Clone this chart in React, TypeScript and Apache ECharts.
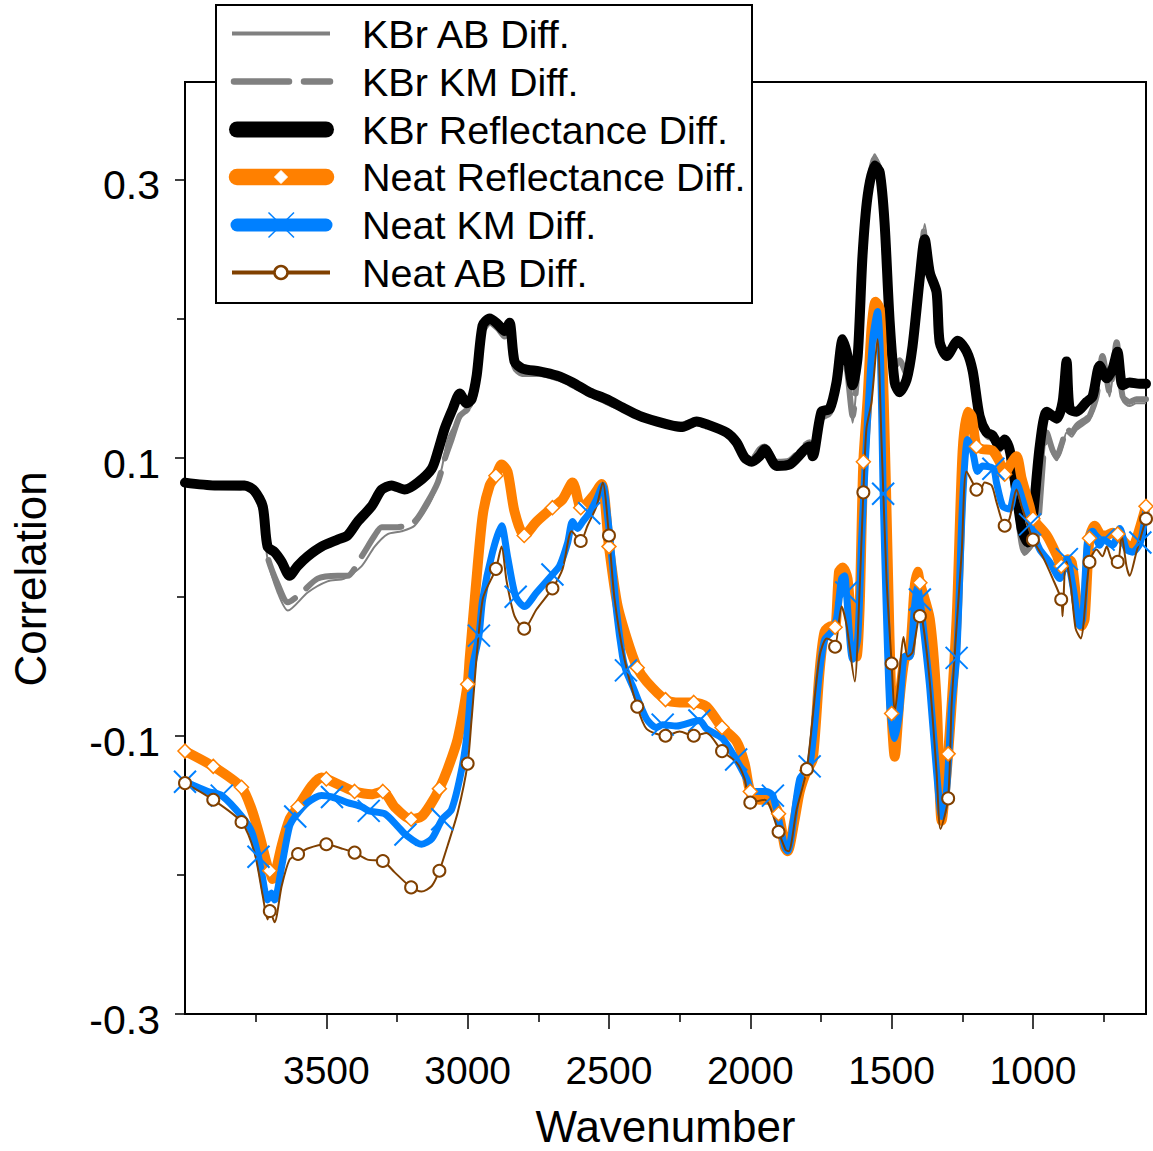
import React, { useEffect, useRef } from "react";
import * as echarts from "echarts";

type Pt = [number, number];

// Correlation spectra, [wavenumber (cm-1), correlation]
const kbrAb: Pt[] = [
  [4000, 0.080], [3895, 0.078], [3789, 0.077], [3754, 0.073], [3725, 0.058], [3708, 0.027], [3672, 0.003],
  [3636, -0.010], [3566, 0.003], [3496, 0.011], [3436, 0.013], [3375, 0.022], [3329, 0.036], [3283, 0.045],
  [3234, 0.047], [3188, 0.051], [3127, 0.070], [3092, 0.092], [3071, 0.113], [3040, 0.125], [3004, 0.133],
  [2986, 0.137], [2968, 0.150], [2947, 0.188], [2922, 0.196], [2894, 0.192], [2869, 0.186], [2852, 0.193],
  [2834, 0.164], [2806, 0.159], [2746, 0.159], [2685, 0.156], [2629, 0.151], [2569, 0.145], [2509, 0.139],
  [2452, 0.134], [2392, 0.129], [2332, 0.125], [2275, 0.123], [2240, 0.123], [2190, 0.126], [2155, 0.124],
  [2084, 0.118], [2049, 0.112], [2020, 0.101], [1995, 0.098], [1967, 0.104], [1949, 0.107], [1907, 0.096],
  [1861, 0.097], [1790, 0.110], [1779, 0.104], [1748, 0.127], [1719, 0.131], [1695, 0.151], [1673, 0.176],
  [1656, 0.155], [1638, 0.125], [1620, 0.166], [1603, 0.248], [1585, 0.293], [1560, 0.318], [1542, 0.309],
  [1525, 0.266], [1507, 0.198], [1489, 0.163], [1472, 0.168], [1447, 0.158], [1426, 0.184], [1401, 0.236],
  [1383, 0.268], [1365, 0.240], [1341, 0.217], [1330, 0.181], [1305, 0.170], [1266, 0.181], [1234, 0.174],
  [1213, 0.158], [1189, 0.126], [1164, 0.114], [1143, 0.112], [1118, 0.104], [1100, 0.108], [1083, 0.096],
  [1065, 0.072], [1040, 0.035], [1030, 0.030], [1010, 0.034], [986, 0.042], [951, 0.115], [930, 0.102],
  [916, 0.098], [895, 0.108], [881, 0.118], [863, 0.115], [845, 0.120], [810, 0.125], [799, 0.127],
  [775, 0.141], [754, 0.170], [729, 0.144], [704, 0.180], [683, 0.141], [658, 0.137], [634, 0.139], [600, 0.139],
];

const kbrKm: Pt[] = [
  [4000, 0.081], [3895, 0.079], [3789, 0.078], [3754, 0.074], [3725, 0.060], [3708, 0.029], [3672, 0.009],
  [3636, -0.004], [3587, 0.003], [3531, 0.013], [3460, 0.015], [3425, 0.015], [3375, 0.029], [3329, 0.044],
  [3304, 0.050], [3248, 0.050], [3188, 0.054], [3142, 0.068], [3106, 0.082], [3081, 0.099], [3057, 0.113],
  [3028, 0.130], [3004, 0.134], [2986, 0.138], [2968, 0.153], [2947, 0.190], [2922, 0.197], [2894, 0.193],
  [2869, 0.187], [2852, 0.194], [2834, 0.165], [2806, 0.160], [2746, 0.160], [2685, 0.157], [2629, 0.152],
  [2569, 0.146], [2509, 0.140], [2452, 0.135], [2392, 0.130], [2332, 0.126], [2275, 0.124], [2240, 0.124],
  [2190, 0.127], [2155, 0.125], [2084, 0.119], [2049, 0.113], [2020, 0.102], [1995, 0.099], [1967, 0.106],
  [1949, 0.108], [1907, 0.097], [1861, 0.098], [1790, 0.111], [1779, 0.106], [1748, 0.128], [1719, 0.132],
  [1695, 0.150], [1673, 0.178], [1656, 0.160], [1638, 0.130], [1620, 0.165], [1603, 0.245], [1585, 0.290],
  [1560, 0.315], [1542, 0.307], [1525, 0.265], [1507, 0.200], [1489, 0.165], [1472, 0.170], [1447, 0.160],
  [1426, 0.185], [1401, 0.235], [1383, 0.265], [1365, 0.238], [1341, 0.218], [1330, 0.183], [1305, 0.172],
  [1266, 0.182], [1234, 0.175], [1213, 0.160], [1189, 0.128], [1164, 0.116], [1143, 0.114], [1118, 0.106],
  [1100, 0.110], [1083, 0.098], [1065, 0.075], [1040, 0.038], [1030, 0.032], [1010, 0.036], [986, 0.044],
  [951, 0.118], [930, 0.105], [916, 0.101], [895, 0.112], [881, 0.121], [863, 0.118], [845, 0.123],
  [810, 0.128], [799, 0.130], [775, 0.144], [754, 0.173], [729, 0.147], [704, 0.183], [683, 0.144],
  [658, 0.140], [634, 0.142], [600, 0.142],
];

const kbrRefl: Pt[] = [
  [4000, 0.082], [3895, 0.080], [3789, 0.080], [3754, 0.076], [3725, 0.065], [3708, 0.036], [3683, 0.032],
  [3658, 0.025], [3630, 0.015], [3602, 0.022], [3566, 0.029], [3517, 0.036], [3460, 0.041], [3425, 0.044],
  [3389, 0.054], [3340, 0.065], [3304, 0.077], [3269, 0.080], [3223, 0.077], [3177, 0.082], [3127, 0.092],
  [3106, 0.104], [3081, 0.121], [3053, 0.135], [3028, 0.146], [3004, 0.139], [2986, 0.142], [2968, 0.159],
  [2947, 0.195], [2922, 0.200], [2894, 0.196], [2869, 0.191], [2852, 0.197], [2834, 0.169], [2806, 0.164],
  [2746, 0.162], [2685, 0.159], [2629, 0.154], [2569, 0.147], [2509, 0.142], [2452, 0.136], [2392, 0.130],
  [2332, 0.126], [2275, 0.123], [2240, 0.122], [2190, 0.126], [2155, 0.124], [2084, 0.118], [2049, 0.111],
  [2020, 0.100], [1995, 0.097], [1967, 0.101], [1949, 0.106], [1907, 0.094], [1861, 0.095], [1790, 0.108],
  [1779, 0.101], [1748, 0.133], [1719, 0.135], [1695, 0.154], [1673, 0.185], [1656, 0.173], [1638, 0.152],
  [1620, 0.173], [1603, 0.245], [1585, 0.288], [1560, 0.310], [1542, 0.305], [1525, 0.269], [1507, 0.198],
  [1489, 0.154], [1472, 0.147], [1447, 0.156], [1426, 0.180], [1401, 0.228], [1383, 0.257], [1365, 0.233],
  [1341, 0.219], [1330, 0.183], [1305, 0.173], [1266, 0.184], [1234, 0.176], [1213, 0.162], [1189, 0.130],
  [1164, 0.118], [1143, 0.116], [1118, 0.108], [1100, 0.113], [1083, 0.106], [1065, 0.085], [1040, 0.049],
  [1019, 0.039], [1001, 0.056], [976, 0.108], [951, 0.133], [916, 0.128], [895, 0.140], [881, 0.169],
  [870, 0.135], [845, 0.133], [810, 0.140], [789, 0.144], [764, 0.166], [739, 0.157], [718, 0.164],
  [701, 0.176], [683, 0.152], [658, 0.154], [623, 0.153], [600, 0.153],
];

const neatRefl: Pt[] = [
  [4000, -0.111], [3900, -0.122], [3800, -0.137], [3764, -0.153], [3736, -0.172], [3708, -0.194],
  [3700, -0.197], [3690, -0.203], [3683, -0.201], [3658, -0.179], [3630, -0.160], [3600, -0.151],
  [3552, -0.136], [3517, -0.130], [3500, -0.131], [3446, -0.136], [3400, -0.140], [3340, -0.142],
  [3300, -0.140], [3259, -0.151], [3200, -0.160], [3163, -0.158], [3127, -0.148], [3100, -0.138],
  [3071, -0.124], [3035, -0.102], [3000, -0.063], [2993, -0.045], [2972, 0.005], [2947, 0.058],
  [2922, 0.080], [2900, 0.087], [2880, 0.095], [2859, 0.090], [2834, 0.061], [2800, 0.044],
  [2756, 0.054], [2700, 0.064], [2664, 0.070], [2629, 0.082], [2604, 0.065], [2600, 0.064],
  [2558, 0.072], [2526, 0.081], [2500, 0.036], [2471, -0.005], [2437, -0.030], [2400, -0.051],
  [2367, -0.061], [2300, -0.074], [2250, -0.076], [2200, -0.076], [2155, -0.079], [2100, -0.094],
  [2049, -0.104], [2020, -0.120], [2000, -0.140], [1967, -0.146], [1932, -0.146], [1900, -0.156],
  [1878, -0.180], [1868, -0.183], [1843, -0.160], [1825, -0.140], [1800, -0.125], [1779, -0.117],
  [1755, -0.054], [1737, -0.025], [1712, -0.021], [1700, -0.022], [1686, 0.018], [1673, 0.021],
  [1656, 0.013], [1638, -0.030], [1624, -0.043], [1613, -0.007], [1600, 0.097], [1585, 0.142],
  [1571, 0.193], [1557, 0.212], [1542, 0.207], [1528, 0.142], [1514, 0.027], [1500, -0.084],
  [1489, -0.115], [1472, -0.074], [1454, -0.045], [1436, -0.041], [1419, 0.006], [1408, 0.018],
  [1400, 0.010], [1365, -0.016], [1341, -0.074], [1323, -0.161], [1300, -0.113], [1270, -0.016],
  [1249, 0.104], [1231, 0.133], [1217, 0.130], [1200, 0.108], [1178, 0.106], [1143, 0.105],
  [1118, 0.097], [1100, 0.088], [1083, 0.094], [1058, 0.101], [1040, 0.085], [1012, 0.065],
  [1000, 0.056], [951, 0.044], [916, 0.030], [900, 0.022], [877, 0.027], [863, 0.025], [845, -0.004],
  [828, -0.021], [817, -0.016], [800, 0.042], [782, 0.051], [757, 0.044], [740, 0.044], [718, 0.046],
  [700, 0.045], [676, 0.039], [651, 0.034], [630, 0.044], [600, 0.065],
];

const neatKm: Pt[] = [
  [4000, -0.133], [3919, -0.140], [3870, -0.143], [3799, -0.158], [3764, -0.169], [3740, -0.187],
  [3729, -0.198], [3708, -0.218], [3694, -0.213], [3683, -0.218], [3658, -0.194], [3630, -0.165],
  [3610, -0.158], [3566, -0.148], [3517, -0.143], [3480, -0.144], [3425, -0.148], [3375, -0.151],
  [3350, -0.154], [3294, -0.156], [3248, -0.165], [3220, -0.171], [3163, -0.178], [3127, -0.174],
  [3090, -0.160], [3057, -0.153], [3021, -0.124], [3000, -0.095], [2982, -0.050], [2960, -0.028],
  [2947, -0.002], [2912, 0.032], [2880, 0.051], [2859, 0.029], [2830, 0.000], [2799, -0.007],
  [2756, 0.003], [2700, 0.016], [2675, 0.022], [2646, 0.039], [2629, 0.054], [2611, 0.049],
  [2593, 0.054], [2570, 0.060], [2544, 0.070], [2522, 0.080], [2505, 0.058], [2487, 0.022],
  [2473, -0.011], [2452, -0.043], [2440, -0.053], [2417, -0.064], [2367, -0.088], [2332, -0.094],
  [2310, -0.092], [2261, -0.093], [2180, -0.089], [2155, -0.095], [2098, -0.102], [2050, -0.117],
  [2013, -0.131], [1992, -0.140], [1943, -0.140], [1920, -0.143], [1878, -0.180], [1868, -0.183],
  [1825, -0.131], [1790, -0.122], [1755, -0.054], [1737, -0.031], [1712, -0.025], [1695, -0.016],
  [1677, 0.013], [1666, 0.015], [1660, 0.003], [1638, -0.045], [1620, -0.030], [1606, 0.042],
  [1585, 0.128], [1567, 0.185], [1550, 0.205], [1539, 0.171], [1530, 0.074], [1507, -0.078],
  [1489, -0.102], [1472, -0.083], [1454, -0.043], [1436, -0.043], [1419, -0.007], [1408, 0.007],
  [1400, -0.002], [1390, -0.018], [1365, -0.066], [1341, -0.126], [1323, -0.158], [1305, -0.138],
  [1288, -0.079], [1270, -0.044], [1249, 0.068], [1231, 0.113], [1213, 0.104], [1196, 0.090],
  [1178, 0.094], [1140, 0.092], [1129, 0.082], [1107, 0.065], [1083, 0.063], [1058, 0.082],
  [1040, 0.072], [1010, 0.052], [976, 0.034], [941, 0.025], [905, 0.013], [880, 0.027], [859, 0.008],
  [834, -0.021], [824, -0.016], [806, 0.042], [789, 0.047], [764, 0.037], [750, 0.041], [718, 0.037],
  [693, 0.049], [669, 0.034], [648, 0.032], [620, 0.039], [600, 0.063],
];

const neatAb: Pt[] = [
  [4000, -0.134], [3900, -0.146], [3800, -0.162], [3754, -0.184], [3725, -0.215], [3708, -0.232],
  [3700, -0.226], [3683, -0.234], [3658, -0.208], [3630, -0.189], [3600, -0.185], [3566, -0.181],
  [3500, -0.178], [3446, -0.181], [3400, -0.184], [3354, -0.189], [3300, -0.190], [3259, -0.198],
  [3200, -0.209], [3163, -0.212], [3127, -0.208], [3100, -0.197], [3071, -0.179], [3035, -0.155],
  [3000, -0.120], [2986, -0.088], [2947, -0.002], [2900, 0.020], [2880, 0.036], [2862, 0.011],
  [2834, -0.014], [2800, -0.023], [2756, -0.009], [2700, 0.006], [2664, 0.020], [2632, 0.047],
  [2600, 0.040], [2576, 0.051], [2544, 0.065], [2522, 0.082], [2500, 0.044], [2480, -0.002],
  [2445, -0.045], [2400, -0.079], [2367, -0.095], [2300, -0.100], [2250, -0.097], [2200, -0.100],
  [2155, -0.098], [2100, -0.111], [2049, -0.119], [2020, -0.131], [2000, -0.148], [1949, -0.146],
  [1900, -0.169], [1875, -0.182], [1864, -0.183], [1836, -0.153], [1800, -0.124], [1755, -0.043],
  [1730, -0.030], [1709, -0.032], [1700, -0.036], [1677, -0.007], [1659, -0.021], [1630, -0.061],
  [1620, -0.030], [1600, 0.075], [1589, 0.121], [1571, 0.140], [1550, 0.185], [1536, 0.113],
  [1518, 0.013], [1500, -0.048], [1489, -0.083], [1472, -0.054], [1458, -0.029], [1443, -0.043],
  [1426, -0.040], [1400, -0.014], [1390, -0.018], [1365, -0.061], [1341, -0.126], [1327, -0.167],
  [1300, -0.145], [1288, -0.079], [1273, -0.030], [1252, 0.032], [1235, 0.090], [1200, 0.077],
  [1189, 0.075], [1171, 0.082], [1146, 0.080], [1129, 0.068], [1100, 0.051], [1083, 0.056],
  [1058, 0.077], [1040, 0.065], [1000, 0.041], [966, 0.029], [930, 0.013], [900, -0.002],
  [895, -0.014], [884, 0.027], [866, 0.008], [849, -0.023], [831, -0.030], [800, 0.025], [775, 0.034],
  [754, 0.029], [739, 0.036], [722, 0.027], [700, 0.025], [686, 0.044], [669, 0.022], [658, 0.015],
  [634, 0.032], [600, 0.056],
];

// Where the marker symbols sit on each neat curve
const markersEvery100 = [
  4000, 3900, 3800, 3700, 3600, 3500, 3400, 3300, 3200, 3100, 3000, 2900, 2800, 2700, 2600, 2500, 2400,
  2300, 2200, 2100, 2000, 1900, 1800, 1700, 1600, 1500, 1400, 1300, 1200, 1100, 1000, 900, 800, 700, 600,
];
const kmMarkers = [
  4000, 3870, 3740, 3610, 3480, 3350, 3220, 3090, 2960, 2830, 2700, 2570, 2440, 2310, 2180, 2050, 1920,
  1790, 1660, 1530, 1400, 1270, 1140, 1010, 880, 750, 620,
];

const xMajor = [3500, 3000, 2500, 2000, 1500, 1000];
const xMinor = [3750, 3250, 2750, 2250, 1750, 1250, 750];
const yMajor = [-0.3, -0.1, 0.1, 0.3];
const yMinor = [-0.2, 0, 0.2];

const legendLabels = [
  "KBr AB Diff.",
  "KBr KM Diff.",
  "KBr Reflectance Diff.",
  "Neat Reflectance Diff.",
  "Neat KM Diff.",
  "Neat AB Diff.",
];

const GRAY = "#808080";
const ORANGE = "#FF8000";
const BLUE = "#0080FF";
const BROWN = "#804000";
const FONT = '"Liberation Sans", Arial, sans-serif';
const GRAY_DASH = [55, 15];
const SMOOTH = 0.25;

const markAt = (list: number[], shape: string) => {
  const set = new Set(list);
  return (v: number[]) => (set.has(v[0]) ? shape : "none");
};

function legendGraphic(): any[] {
  const rows = [33.5, 81.5, 129.5, 177, 225, 272.5];
  const z = 100;
  const els: any[] = [
    {
      type: "rect",
      z,
      shape: { x: 216, y: 5, width: 536, height: 298 },
      style: { fill: "#fff", stroke: "#000", lineWidth: 2 },
    },
  ];
  const line = (y: number, x1: number, x2: number, style: any) => ({
    type: "line",
    z: z + 1,
    shape: { x1, y1: y, x2, y2: y },
    style,
  });
  els.push(line(rows[0], 232, 330, { stroke: GRAY, lineWidth: 4 }));
  els.push(line(rows[1], 234, 330, { stroke: GRAY, lineWidth: 6.5, lineDash: GRAY_DASH, lineCap: "round" }));
  els.push(line(rows[2], 237, 326, { stroke: "#000", lineWidth: 16, lineCap: "round" }));
  els.push(line(rows[3], 237, 326, { stroke: ORANGE, lineWidth: 16.5, lineCap: "round" }));
  els.push({
    type: "polygon",
    z: z + 2,
    shape: { points: [[281, rows[3] - 6.5], [287.5, rows[3]], [281, rows[3] + 6.5], [274.5, rows[3]]] },
    style: { fill: "#fff", stroke: "#fff", lineWidth: 1 },
  });
  els.push(line(rows[4], 237, 326, { stroke: BLUE, lineWidth: 13, lineCap: "round" }));
  els.push({
    type: "line",
    z: z + 2,
    shape: { x1: 268.5, y1: rows[4] - 12.5, x2: 294, y2: rows[4] + 12.5 },
    style: { stroke: BLUE, lineWidth: 1.5 },
  });
  els.push({
    type: "line",
    z: z + 2,
    shape: { x1: 294, y1: rows[4] - 12.5, x2: 268.5, y2: rows[4] + 12.5 },
    style: { stroke: BLUE, lineWidth: 1.5 },
  });
  els.push(line(rows[5], 232, 330, { stroke: BROWN, lineWidth: 4 }));
  els.push({
    type: "circle",
    z: z + 2,
    shape: { cx: 281, cy: rows[5], r: 6.5 },
    style: { fill: "#fff", stroke: BROWN, lineWidth: 2.5 },
  });
  legendLabels.forEach((label, i) => {
    els.push({
      type: "text",
      z: z + 2,
      x: 362,
      y: rows[i],
      style: {
        text: label,
        font: `39.5px ${FONT}`,
        fill: "#000",
        textAlign: "left",
        textVerticalAlign: "middle",
        verticalAlign: "middle",
      },
    });
  });
  return els;
}

export default function App() {
  const ref = useRef<HTMLDivElement>(null);

  useEffect(() => {
    if (!ref.current) return;
    const chart = echarts.init(ref.current, undefined, { renderer: "svg" });

    const axisLineStyle = { color: "#000", width: 2 };

    const option: any = {
      animation: false,
      backgroundColor: "#fff",
      grid: {
        left: 185,
        top: 82,
        width: 961,
        height: 932,
        show: true,
        borderColor: "#000",
        borderWidth: 2,
        backgroundColor: "transparent",
        containLabel: false,
        outerBoundsMode: "none",
      },
      xAxis: [
        {
          type: "value",
          min: 600,
          max: 4000,
          inverse: true,
          position: "bottom",
          axisLine: { show: true, onZero: false, lineStyle: axisLineStyle },
          axisTick: { show: true, length: 15, customValues: xMajor, lineStyle: { color: "#000", width: 1.5 } },
          axisLabel: {
            customValues: xMajor,
            margin: 37,
            fontSize: 39,
            fontFamily: FONT,
            color: "#000",
            formatter: (v: number) => String(v),
          },
          splitLine: { show: false },
          name: "Wavenumber",
          nameLocation: "middle",
          nameGap: 90,
          nameTextStyle: { fontSize: 44, fontFamily: FONT, color: "#000" },
        },
        {
          type: "value",
          min: 600,
          max: 4000,
          inverse: true,
          position: "bottom",
          axisLine: { show: false, onZero: false },
          axisTick: { show: true, length: 8, customValues: xMinor, lineStyle: { color: "#000", width: 1.5 } },
          axisLabel: { show: false },
          splitLine: { show: false },
        },
      ],
      yAxis: [
        {
          type: "value",
          min: -0.3,
          max: 0.37,
          position: "left",
          axisLine: { show: true, onZero: false, lineStyle: axisLineStyle },
          axisTick: { show: true, length: 10, customValues: yMajor, lineStyle: { color: "#000", width: 1.5 } },
          axisLabel: {
            customValues: yMajor,
            margin: 25,
            fontSize: 41,
            fontFamily: FONT,
            color: "#000",
            verticalAlign: "top",
            lineHeight: 12,
            formatter: (v: number) => v.toFixed(1),
          },
          splitLine: { show: false },
        },
        {
          type: "value",
          min: -0.3,
          max: 0.37,
          position: "left",
          axisLine: { show: false, onZero: false },
          axisTick: { show: true, length: 8, customValues: yMinor, lineStyle: { color: "#000", width: 1.5 } },
          axisLabel: { show: false },
          splitLine: { show: false },
        },
      ],
      series: [
        {
          name: legendLabels[0],
          type: "line",
          data: kbrAb,
          symbol: "none",
          smooth: SMOOTH,
          lineStyle: { color: GRAY, width: 2 },
          silent: true,
        },
        {
          name: legendLabels[1],
          type: "line",
          data: kbrKm,
          symbol: "none",
          smooth: SMOOTH,
          lineStyle: { color: GRAY, width: 6, type: GRAY_DASH, cap: "round", join: "round" },
          silent: true,
        },
        {
          name: legendLabels[2],
          type: "line",
          data: kbrRefl,
          symbol: "none",
          smooth: SMOOTH,
          lineStyle: { color: "#000", width: 10, cap: "round", join: "round" },
          silent: true,
        },
        {
          name: legendLabels[3],
          type: "line",
          data: neatRefl,
          showSymbol: true,
          showAllSymbol: true,
          symbol: markAt(markersEvery100, "diamond"),
          symbolSize: 14,
          smooth: SMOOTH,
          itemStyle: { color: "#fff", borderColor: ORANGE, borderWidth: 1.5 },
          lineStyle: { color: ORANGE, width: 10, cap: "round", join: "round" },
          silent: true,
        },
        {
          name: legendLabels[4],
          type: "line",
          data: neatKm,
          showSymbol: true,
          showAllSymbol: true,
          symbol: markAt(kmMarkers, "path://M0,0L20,20M20,0L0,20"),
          symbolSize: 22,
          smooth: SMOOTH,
          itemStyle: { color: BLUE, borderColor: BLUE, borderWidth: 2 },
          lineStyle: { color: BLUE, width: 7, cap: "round", join: "round" },
          silent: true,
        },
        {
          name: legendLabels[5],
          type: "line",
          data: neatAb,
          showSymbol: true,
          showAllSymbol: true,
          symbol: markAt(markersEvery100, "circle"),
          symbolSize: 12,
          smooth: SMOOTH,
          itemStyle: { color: "#fff", borderColor: BROWN, borderWidth: 2 },
          lineStyle: { color: BROWN, width: 2, join: "round" },
          silent: true,
        },
      ],
      graphic: [
        ...legendGraphic(),
        {
          type: "text",
          x: 30,
          y: 579,
          rotation: Math.PI / 2,
          style: {
            text: "Correlation",
            font: `44px ${FONT}`,
            fill: "#000",
            textAlign: "center",
            textVerticalAlign: "middle",
            verticalAlign: "middle",
          },
        },
      ],
    };

    chart.setOption(option);
    return () => chart.dispose();
  }, []);

  return (
    <div
      ref={ref}
      style={{ position: "absolute", left: 0, top: 0, width: 1153, height: 1151, background: "#fff" }}
    />
  );
}
